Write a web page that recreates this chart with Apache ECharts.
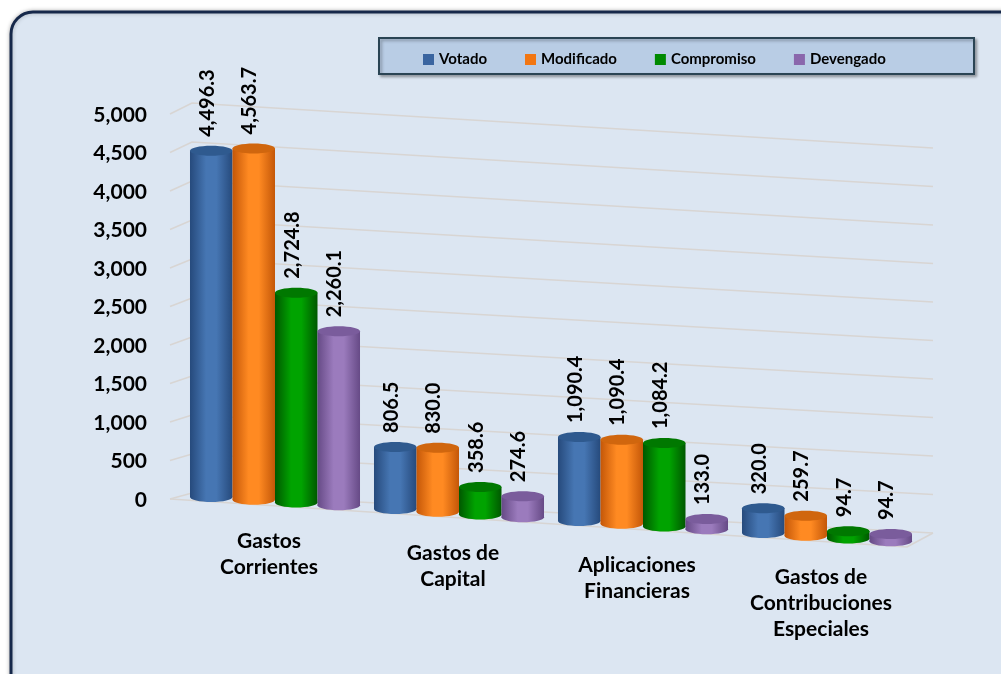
<!DOCTYPE html>
<html>
<head>
<meta charset="utf-8">
<script src="https://cdn.jsdelivr.net/npm/echarts@6/dist/echarts.min.js"></script>
<style>html,body{margin:0;padding:0;background:#fff}#c{width:1001px;height:674px}</style>
</head>
<body>
<div id="c"></div>
<script>
const categories = ['Gastos\nCorrientes', 'Gastos de\nCapital', 'Aplicaciones\nFinancieras', 'Gastos de\nContribuciones\nEspeciales'];
const seriesNames = ['Votado', 'Modificado', 'Compromiso', 'Devengado'];
const votado = [4496.3, 806.5, 1090.4, 320.0];
const modificado = [4563.7, 830.0, 1090.4, 259.7];
const compromiso = [2724.8, 358.6, 1084.2, 94.7];
const devengado = [2260.1, 274.6, 133.0, 94.7];
const yTicks = [0, 500, 1000, 1500, 2000, 2500, 3000, 3500, 4000, 4500, 5000];

const FONT = 'Lato, "Open Sans", sans-serif';
const SLOPE = 0.065;
const palettes = [
  {edge: '#264a7c', mid: '#4676b3', top: '#2f5a8f', legend: '#3a65a0'},
  {edge: '#c45708', mid: '#ff8a22', top: '#d0660e', legend: '#f27612'},
  {edge: '#005800', mid: '#00a300', top: '#007800', legend: '#008a00'},
  {edge: '#664a86', mid: '#9b7bbd', top: '#7a5c9c', legend: '#8a67ac'}
];
const fmt = v => v.toLocaleString('en-US', {minimumFractionDigits: 1, maximumFractionDigits: 1});

function grad(p) {
  return new echarts.graphic.LinearGradient(0, 0, 1, 0, [
    {offset: 0, color: p.edge}, {offset: 0.38, color: p.mid}, {offset: 0.62, color: p.mid}, {offset: 1, color: p.edge}
  ]);
}

function renderBar(params, api) {
  const cat = api.value(0), v = api.value(1);
  const base = api.coord([cat, 0]);
  const top = api.coord([cat, v]);
  const bandW = api.size([1, 0])[0];
  const w = bandW * 0.231;
  const si = params.seriesIndex;
  const cx = base[0] + (si - 1.5) * w;
  const gl = params.coordSys.x;
  const sh = SLOPE * (cx - (gl + 74));
  const yb = base[1] + sh, yt = top[1] + sh;
  const p = palettes[si];
  const ry = 5;
  return {
    type: 'group',
    children: [
      {type: 'ellipse', shape: {cx: cx, cy: yb, rx: w / 2, ry: ry}, style: {fill: grad(p)}},
      {type: 'rect', shape: {x: cx - w / 2, y: yt, width: w, height: Math.max(0, yb - yt)}, style: {fill: grad(p)}},
      {type: 'ellipse', shape: {cx: cx, cy: yt, rx: w / 2, ry: ry}, style: {fill: p.top}},
      {type: 'text', x: cx - 4, y: yt - ry - 9, rotation: Math.PI / 2,
       style: {text: fmt(v), x: 0, y: 0, align: 'left', verticalAlign: 'middle',
               font: 'bold 20px ' + FONT, fill: '#000'}}
    ]
  };
}

function renderGrid(params, api) {
  const v = api.value(1);
  const Y = api.coord([0, v])[1];
  const gl = params.coordSys.x;
  const peak = Y - 7 - 5 * v / 5000;
  const st = {stroke: '#d8d5d3', lineWidth: 1.6, fill: null};
  const children = [
    {type: 'polyline', shape: {points: [[gl - 13, Y - 1], [gl + 9, peak], [gl + 750, Y + 33]]}, style: st}
  ];
  if (v === 0) {
    children.push({type: 'polyline', shape: {points: [[gl - 13, Y - 1], [gl + 724, Y + 47], [gl + 750, Y + 33]]}, style: st});
  }
  return {type: 'group', children: children};
}

function renderCat(params, api) {
  const i = api.value(0);
  const base = api.coord([i, 0]);
  const gl = params.coordSys.x;
  const sh = SLOPE * (base[0] - (gl + 74));
  return {type: 'text', x: base[0] - 6, y: base[1] + sh + 27,
    style: {text: categories[i], align: 'center', verticalAlign: 'top', lineHeight: 26,
            font: 'bold 21px ' + FONT, fill: '#000'}};
}

const dataSets = [votado, modificado, compromiso, devengado];
const barSeries = dataSets.map((arr, si) => ({
  type: 'custom', name: seriesNames[si], renderItem: renderBar, clip: false, z: 3,
  itemStyle: {color: palettes[si].legend},
  data: arr.map((v, i) => [i, v])
}));

const chart = echarts.init(document.getElementById('c'));
chart.setOption({
  backgroundColor: '#ffffff',
  animation: false,
  color: palettes.map(p => p.legend),
  graphic: [
    {type: 'rect', z: -10, shape: {x: 11, y: 12, width: 1100, height: 800, r: 22},
     style: {fill: '#dce6f2', stroke: '#16284a', lineWidth: 3, shadowBlur: 4, shadowColor: 'rgba(0,0,0,0.25)'}},
    {type: 'rect', z: -5, shape: {x: 379, y: 38, width: 595, height: 36},
     style: {fill: '#b9cde5', stroke: '#2a4454', lineWidth: 2, shadowBlur: 3, shadowOffsetX: 2, shadowOffsetY: 2, shadowColor: 'rgba(0,0,0,0.3)'}}
  ],
  legend: {
    data: seriesNames, left: 418, top: 47, icon: 'rect', itemWidth: 11, itemHeight: 11, itemGap: 38,
    textStyle: {fontFamily: FONT, fontWeight: 'bold', fontSize: 15, color: '#000'}
  },
  grid: {left: 183, right: 82, top: 115, bottom: 174},
  xAxis: {type: 'category', data: categories, axisLine: {show: false}, axisTick: {show: false}, axisLabel: {show: false}},
  yAxis: {type: 'value', min: 0, max: 5000, interval: 500,
    axisLine: {show: false}, axisTick: {show: false}, splitLine: {show: false},
    axisLabel: {margin: 36, fontFamily: FONT, fontWeight: 'bold', fontSize: 21, color: '#000',
      formatter: v => v.toLocaleString('en-US')}},
  series: barSeries.concat([
    {type: 'custom', name: 'grid', renderItem: renderGrid, clip: false, z: 1, silent: true,
     data: yTicks.map(v => [0, v])},
    {type: 'custom', name: 'cats', renderItem: renderCat, clip: false, z: 2, silent: true,
     data: categories.map((c, i) => [i, 0])}
  ])
});
</script>
</body>
</html>
